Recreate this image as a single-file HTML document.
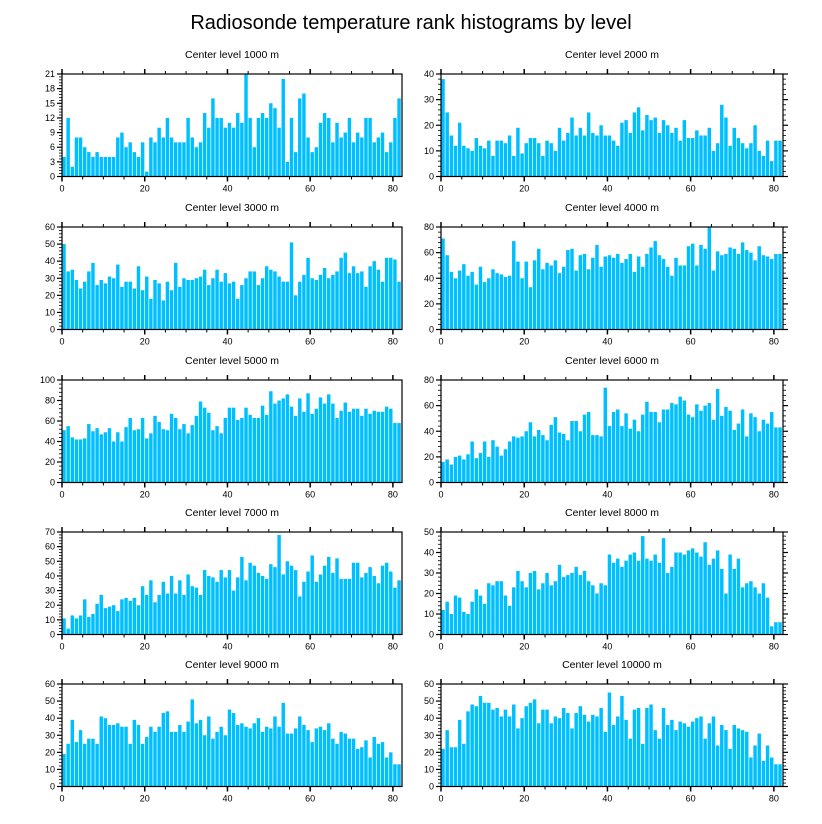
<!DOCTYPE html>
<html><head><meta charset="utf-8"><style>
html,body{margin:0;padding:0;background:#fff;}
svg{display:block;font-family:"Liberation Sans",sans-serif;}
</style></head><body>
<svg id="chart" width="822" height="824" viewBox="0 0 822 824">
<text x="411" y="29" text-anchor="middle" font-size="20" fill="#000">Radiosonde temperature rank histograms by level</text>
</svg>
<script>
const titles = ["Center level 1000 m","Center level 2000 m","Center level 3000 m","Center level 4000 m","Center level 5000 m","Center level 6000 m","Center level 7000 m","Center level 8000 m","Center level 9000 m","Center level 10000 m"];
const yMax = [21,40,60,80,100,80,70,50,60,60];
const yStep = [3,10,10,20,20,20,10,10,10,10];
const xTicks = [0,20,40,60,80];
const level1000 = [4,12,2,8,8,6,5,4,5,4,4,4,4,8,9,6,7,5,4,7,1,8,7,10,8,12,8,7,7,7,12,8,6,7,13,10,16,12,12,10,11,10,13,11,21,12,6,12,13,12,15,14,10,20,3,12,5,16,17,8,5,6,11,13,12,7,11,8,9,12,7,9,8,12,12,7,8,9,5,7,12,16];
const level2000 = [38,25,16,12,21,12,11,10,15,12,11,14,8,14,14,13,16,8,19,9,13,15,15,13,8,14,13,10,19,14,17,23,16,19,16,25,17,16,20,16,16,14,12,21,22,17,25,27,18,24,22,23,17,22,20,17,19,14,22,15,15,18,16,16,19,10,13,28,23,12,19,15,13,11,13,20,10,8,14,6,14,14];
const level3000 = [50,34,35,29,24,28,34,39,26,29,27,31,30,38,25,28,28,24,37,23,31,18,29,27,17,28,23,39,25,30,29,29,30,31,35,26,30,35,28,33,27,28,18,26,30,34,34,26,30,37,35,34,31,28,28,51,20,28,32,42,30,29,32,36,30,32,34,42,45,33,37,33,34,25,37,40,35,28,42,42,41,28];
const level4000 = [71,58,45,40,46,51,42,45,35,49,37,40,47,44,43,41,42,69,53,40,53,33,54,63,47,52,50,54,44,49,62,63,46,58,59,47,56,66,49,57,58,56,59,52,55,59,45,57,49,59,64,69,58,55,49,42,56,50,50,65,67,50,66,63,80,46,61,58,59,64,63,59,68,62,60,54,65,58,57,55,59,59];
const level5000 = [51,55,44,42,42,43,57,50,53,47,49,53,40,49,40,54,63,51,52,63,43,48,65,59,52,51,67,63,52,57,48,56,65,79,73,68,51,55,48,63,73,73,61,63,73,66,63,63,75,66,89,77,80,82,86,74,65,82,69,87,67,72,83,77,86,77,63,70,78,69,72,72,65,72,67,70,69,69,74,72,58,58];
const level6000 = [16,18,14,20,21,18,22,32,19,23,32,20,33,28,21,26,32,36,35,36,40,47,36,41,37,33,45,51,39,38,33,48,48,40,53,55,37,37,36,74,44,55,57,44,54,42,49,40,53,63,55,55,47,57,57,62,61,67,64,53,51,61,56,60,62,49,73,52,59,56,41,46,57,36,54,51,40,49,46,55,43,43];
const level7000 = [11,4,13,11,13,24,12,14,21,27,18,19,20,16,24,25,23,25,20,33,27,37,22,27,36,28,40,28,37,27,41,33,32,27,44,40,39,36,44,39,44,30,39,53,37,49,47,42,40,38,48,46,68,41,50,47,44,26,36,43,54,36,41,47,53,42,52,38,38,38,49,49,39,42,46,40,35,47,49,43,32,37];
const level8000 = [12,16,10,19,18,11,10,16,22,19,15,25,24,26,26,19,14,23,31,26,23,30,31,22,25,30,24,26,34,28,29,30,33,29,31,26,24,20,25,24,39,35,37,33,36,39,40,36,48,37,36,39,35,47,30,33,40,40,39,41,42,40,38,45,34,37,41,32,20,39,32,37,23,25,26,23,20,25,18,4,6,6];
const level9000 = [19,25,39,26,33,25,28,28,25,41,40,36,36,37,35,35,25,39,36,25,29,35,32,35,43,44,32,32,36,32,38,51,37,39,30,41,28,32,35,30,45,43,36,37,35,34,37,40,32,35,34,41,35,49,31,31,34,41,36,33,26,34,35,33,37,28,25,32,31,28,28,22,23,27,17,29,25,26,17,20,13,13];
const level10000 = [22,33,23,23,39,25,44,48,47,53,49,49,45,46,41,45,41,48,34,40,47,49,51,37,45,45,37,41,40,46,43,34,43,47,42,38,42,41,46,32,55,36,41,53,39,28,45,46,25,46,48,33,28,46,36,39,33,38,37,35,38,40,41,28,37,41,24,36,33,22,36,34,33,32,17,24,31,15,24,17,13,13];
const series = [level1000,level2000,level3000,level4000,level5000,level6000,level7000,level8000,level9000,level10000];

const NS = "http://www.w3.org/2000/svg";
const svg = document.getElementById("chart");
function mk(tag, attrs, parent){
  const e = document.createElementNS(NS, tag);
  for (const k in attrs) e.setAttribute(k, attrs[k]);
  (parent||svg).appendChild(e);
  return e;
}
const tops = [74,227,380,532,684];
const H = 102.5;
const XMAX = 82.2;
for (let p = 0; p < 10; p++) {
  const col = p % 2, row = Math.floor(p / 2);
  const x0 = col ? 441 : 62, x1 = col ? 783 : 402;
  const y0 = tops[row], y1 = y0 + H;
  const xs = v => x0 + (v / XMAX) * (x1 - x0);
  const ys = v => y1 - (v / yMax[p]) * H;
  const g = mk("g", {});
  
  
  const t = mk("text", {x: (x0 + x1) / 2, y: y0 - 16, "text-anchor": "middle", "font-size": "10.5", fill: "#000"}, g);
  t.textContent = titles[p];
  
  
  const data = series[p];
  for (let i = 0; i < data.length; i++) {
    const bx = xs(i) + 0.3, bw = xs(i + 1) - xs(i) - 0.7;
    const r = mk("rect", {x: bx, y: ys(data[i]), width: bw, height: y1 - ys(data[i]), fill: "#00bfff"}, g);
    
    
  }
  const frame = mk("rect", {x: x0, y: y0, width: x1 - x0, height: H, fill: "none", stroke: "#000", "stroke-width": "1.2"}, g);
  
  
  // x ticks
  for (let v = 0; v <= 80; v += 5) {
    const major = v % 20 === 0;
    const L = major ? 5 : 3;
    mk("line", {x1: xs(v), x2: xs(v), y1: y1, y2: y1 + L, stroke: "#000", "stroke-width": major ? 1.5 : 1}, g);
    mk("line", {x1: xs(v), x2: xs(v), y1: y0, y2: y0 - L, stroke: "#000", "stroke-width": major ? 1.5 : 1}, g);
  }
  for (const v of xTicks) {
    const tl = mk("text", {x: xs(v), y: y1 + 15, "text-anchor": "middle", "font-size": "9", fill: "#000"}, g);
    tl.textContent = v;
    
    
  }
  // y ticks
  const minor = yStep[p] / 5;
  for (let k = 0; k * minor <= yMax[p] + 1e-9; k++) {
    const v = k * minor;
    const major = k % 5 === 0;
    const L = major ? 5 : 3;
    mk("line", {x1: x0, x2: x0 - L, y1: ys(v), y2: ys(v), stroke: "#000", "stroke-width": major ? 1.2 : 0.8}, g);
    if (col) mk("line", {x1: x1, x2: x1 + L, y1: ys(v), y2: ys(v), stroke: "#000", "stroke-width": major ? 1.2 : 0.8}, g);
  }
  for (let v = 0; v <= yMax[p] + 1e-9; v += yStep[p]) {
    const tl = mk("text", {x: x0 - 7, y: ys(v) + 3, "text-anchor": "end", "font-size": "9", fill: "#000"}, g);
    tl.textContent = v;
    
    
  }
}
</script>
</body></html>
